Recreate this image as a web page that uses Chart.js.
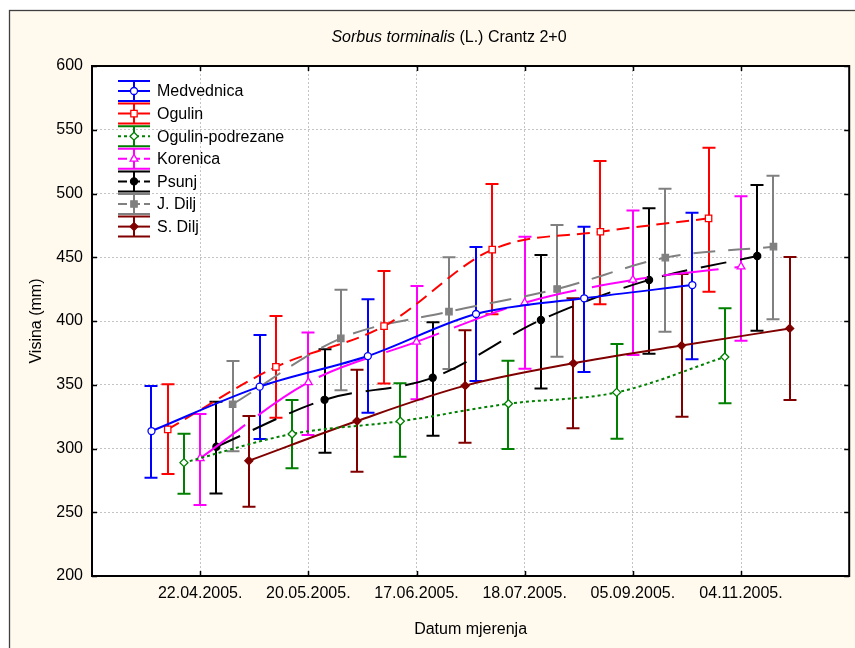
<!DOCTYPE html>
<html>
<head>
<meta charset="utf-8">
<title>Sorbus torminalis</title>
<script src="https://cdn.jsdelivr.net/npm/chart.js@4.4.1/dist/chart.umd.min.js"></script>
<style>
  html, body { margin: 0; padding: 0; background: #fff; }
  #wrap { width: 855px; height: 648px; }
</style>
</head>
<body>
<div id="wrap"><canvas id="chart" width="855" height="648"></canvas></div>
<script>
// Measurement dates (x categories)
const dates = ['22.04.2005.', '20.05.2005.', '17.06.2005.', '18.07.2005.', '05.09.2005.', '04.11.2005.'];
const yTicks = [200, 250, 300, 350, 400, 450, 500, 550, 600];

// Mean height (mm) and error bar ends
const medvednicaMean = [313.7, 348.5, 372.5, 405.5, 417.8, 428.2];
const medvednicaLow  = [277.0, 307.5, 328.0, 353.0, 360.0, 370.0];
const medvednicaHigh = [349.0, 389.0, 417.0, 458.0, 474.0, 485.0];

const ogulinMean = [315.0, 364.0, 396.0, 456.0, 470.0, 480.5];
const ogulinLow  = [280.0, 324.2, 351.0, 405.3, 413.2, 423.0];
const ogulinHigh = [350.3, 404.0, 439.2, 507.5, 525.5, 535.8];

const podrezaneMean = [288.9, 311.4, 321.4, 335.1, 344.0, 371.8];
const podrezaneLow  = [264.5, 284.5, 293.5, 299.7, 307.6, 335.5];
const podrezaneHigh = [311.6, 338.0, 351.1, 368.9, 382.0, 410.0];

const korenicaMean = [292.3, 351.9, 383.6, 414.3, 432.2, 442.6];
const korenicaLow  = [255.7, 310.6, 338.6, 362.6, 373.3, 384.6];
const korenicaHigh = [327.0, 391.0, 427.5, 466.1, 486.7, 497.8];

const psunjMean = [301.4, 338.2, 355.5, 400.8, 432.2, 451.0];
const psunjLow  = [264.8, 296.7, 310.0, 347.1, 374.4, 392.4];
const psunjHigh = [336.7, 377.8, 399.0, 451.8, 488.4, 506.7];

const jDiljMean = [334.7, 386.4, 407.3, 425.1, 449.7, 458.3];
const jDiljLow  = [297.8, 345.6, 362.4, 372.0, 391.6, 401.3];
const jDiljHigh = [368.6, 424.5, 450.0, 475.3, 503.8, 514.0];

const sDiljMean = [290.4, 321.6, 349.3, 366.8, 380.7, 394.2];
const sDiljLow  = [254.4, 281.8, 304.6, 315.8, 324.9, 338.0];
const sDiljHigh = [325.5, 361.8, 392.7, 417.8, 436.9, 450.2];

const FONT = "'Liberation Sans', Arial, sans-serif";

// series styles (colour, dash, marker)
const series = [
  { label: 'Medvednica', mean: medvednicaMean, low: medvednicaLow, high: medvednicaHigh,
    color: '#0000ff', dash: [], marker: 'circle', fill: '#ffffff', r: 3.5 },
  { label: 'Ogulin', mean: ogulinMean, low: ogulinLow, high: ogulinHigh,
    color: '#ff0000', dash: [13, 7], marker: 'rect', fill: '#ffffff', r: 4.5 },
  { label: 'Ogulin-podrezane', mean: podrezaneMean, low: podrezaneLow, high: podrezaneHigh,
    color: '#008000', dash: [3, 3], marker: 'rectRot', fill: '#ffffff', r: 4 },
  { label: 'Korenica', mean: korenicaMean, low: korenicaLow, high: korenicaHigh,
    color: '#ff00ff', dash: [56, 16], marker: 'triangle', fill: '#ffffff', r: 4.5 },
  { label: 'Psunj', mean: psunjMean, low: psunjLow, high: psunjHigh,
    color: '#000000', dash: [26, 14], marker: 'circle', fill: '#000000', r: 3.5 },
  { label: 'J. Dilj', mean: jDiljMean, low: jDiljLow, high: jDiljHigh,
    color: '#808080', dash: [22, 13], marker: 'rect', fill: '#808080', r: 4.5 },
  { label: 'S. Dilj', mean: sDiljMean, low: sDiljLow, high: sDiljHigh,
    color: '#800000', dash: [], marker: 'rectRot', fill: '#800000', r: 4 }
];

// horizontal shift of each series inside a date group
const groupStep = 0.15;
function xOf(seriesIdx, dateIdx) {
  return dateIdx + 1 + (seriesIdx - 3) * groupStep;
}

const datasets = series.map((s, si) => ({
  label: s.label,
  data: s.mean.map((v, j) => ({ x: xOf(si, j), y: v })),
  borderColor: s.color,
  borderWidth: 2,
  borderDash: s.dash,
  cubicInterpolationMode: 'monotone',
  pointStyle: s.marker,
  pointRadius: s.r,
  pointBackgroundColor: s.fill,
  pointBorderColor: s.color,
  pointBorderWidth: 1.3,
  fill: false
}));

// background: white page, cream panel with a thin frame, white plot area
const backgroundPlugin = {
  id: 'background',
  beforeDraw(chart) {
    const { ctx, chartArea: a } = chart;
    ctx.save();
    ctx.fillStyle = '#ffffff';
    ctx.fillRect(0, 0, chart.width, chart.height);
    ctx.fillStyle = '#fff9ee';
    ctx.fillRect(9, 10, chart.width, chart.height);
    ctx.strokeStyle = '#404040';
    ctx.lineWidth = 1.3;
    ctx.strokeRect(9.5, 10.5, chart.width + 20, chart.height + 20);
    ctx.fillStyle = '#ffffff';
    ctx.fillRect(a.left, a.top, a.right - a.left, a.bottom - a.top);
    ctx.restore();
  }
};

// error bars under the lines and markers
const errorBarPlugin = {
  id: 'errorBars',
  beforeDatasetsDraw(chart) {
    const { ctx } = chart;
    const yScale = chart.scales.y;
    ctx.save();
    ctx.lineWidth = 2;
    series.forEach((s, si) => {
      const meta = chart.getDatasetMeta(si);
      ctx.strokeStyle = s.color;
      meta.data.forEach((pt, j) => {
        const x = Math.round(pt.x);
        const yl = yScale.getPixelForValue(s.low[j]);
        const yh = yScale.getPixelForValue(s.high[j]);
        ctx.beginPath();
        ctx.moveTo(x, yl); ctx.lineTo(x, yh);
        ctx.moveTo(x - 6.5, yl); ctx.lineTo(x + 6.5, yl);
        ctx.moveTo(x - 6.5, yh); ctx.lineTo(x + 6.5, yh);
        ctx.stroke();
      });
    });
    ctx.restore();
  }
};

// frame, inward ticks, titles and legend
const decorPlugin = {
  id: 'decor',
  afterDraw(chart) {
    const { ctx, chartArea: a } = chart;
    const xs = chart.scales.x, ys = chart.scales.y;
    ctx.save();
    ctx.strokeStyle = '#000';
    ctx.lineWidth = 2;
    ctx.strokeRect(a.left, a.top, a.right - a.left, a.bottom - a.top);

    ctx.lineWidth = 1.5;
    ctx.beginPath();
    yTicks.forEach(v => {
      const y = Math.round(ys.getPixelForValue(v)) + 0.5;
      ctx.moveTo(a.left, y); ctx.lineTo(a.left + 5, y);
      ctx.moveTo(a.right, y); ctx.lineTo(a.right - 5, y);
    });
    dates.forEach((d, j) => {
      const x = Math.round(xs.getPixelForValue(j + 1)) + 0.5;
      ctx.moveTo(x, a.top); ctx.lineTo(x, a.top + 5);
      ctx.moveTo(x, a.bottom); ctx.lineTo(x, a.bottom - 5);
    });
    ctx.stroke();

    // title with italic species name
    ctx.fillStyle = '#000';
    ctx.textBaseline = 'middle';
    const part1 = 'Sorbus torminalis';
    const part2 = ' (L.) Crantz 2+0';
    ctx.font = 'italic 16px ' + FONT;
    const w1 = ctx.measureText(part1).width;
    ctx.font = '16px ' + FONT;
    const w2 = ctx.measureText(part2).width;
    const tx = 449 - (w1 + w2) / 2;
    ctx.textAlign = 'left';
    ctx.font = 'italic 16px ' + FONT;
    ctx.fillText(part1, tx, 38);
    ctx.font = '16px ' + FONT;
    ctx.fillText(part2, tx + w1, 38);

    // axis titles
    ctx.textAlign = 'center';
    ctx.fillText('Datum mjerenja', (a.left + a.right) / 2, 630);
    ctx.save();
    ctx.translate(37, (a.top + a.bottom) / 2);
    ctx.rotate(-Math.PI / 2);
    ctx.fillText('Visina (mm)', 0, 0);
    ctx.restore();

    // legend
    const lx0 = 118, lx1 = 150, lcx = 134;
    series.forEach((s, i) => {
      const y = 91 + i * 22.6;
      ctx.strokeStyle = s.color;
      ctx.lineWidth = 2;
      ctx.setLineDash([]);
      ctx.beginPath();
      ctx.moveTo(lx0, y - 10); ctx.lineTo(lx1, y - 10);
      ctx.moveTo(lx0, y + 10); ctx.lineTo(lx1, y + 10);
      ctx.moveTo(lcx, y - 10); ctx.lineTo(lcx, y + 10);
      ctx.stroke();
      const legDash = s.dash.length ? (s.dash[0] > 20 ? [9, 4] : s.dash) : [];
      ctx.setLineDash(legDash);
      ctx.beginPath();
      ctx.moveTo(lx0, y); ctx.lineTo(lx1, y);
      ctx.stroke();
      ctx.setLineDash([]);
      ctx.fillStyle = s.fill;
      ctx.lineWidth = 1.3;
      Chart.helpers.drawPoint(ctx, { pointStyle: s.marker, radius: s.r, rotation: 0, borderWidth: 1.3 }, lcx, y);
      ctx.fillStyle = '#000';
      ctx.textAlign = 'left';
      ctx.font = '16px ' + FONT;
      ctx.fillText(s.label, 157, y + 1);
    });
    ctx.restore();
  }
};

const gridColor = '#c4c4c4';

const cityChart = new Chart(document.getElementById('chart'), {
  type: 'line',
  data: { datasets: datasets },
  options: {
    responsive: false,
    animation: false,
    layout: { padding: { left: 0, top: 66, right: 4, bottom: 0 } },
    plugins: {
      legend: { display: false },
      title: { display: false },
      tooltip: { enabled: false }
    },
    scales: {
      x: {
        type: 'linear',
        min: 0,
        max: dates.length + 1,
        afterFit: (scale) => { scale.height = 72; },
        afterBuildTicks: (scale) => {
          scale.ticks = dates.map((d, j) => ({ value: j + 1 }));
        },
        ticks: {
          padding: 8,
          maxRotation: 0,
          autoSkip: false,
          color: '#000',
          font: { family: FONT, size: 16 },
          callback: (v) => dates[v - 1] || ''
        },
        grid: { color: gridColor, lineWidth: 1, drawTicks: false },
        border: { display: false, dash: [2, 2] }
      },
      y: {
        min: 200,
        max: 600,
        afterFit: (scale) => { scale.width = 92; },
        ticks: {
          stepSize: 50,
          padding: 9,
          color: '#000',
          font: { family: FONT, size: 16 }
        },
        grid: {
          color: (c) => (c.tick && (c.tick.value === 200 || c.tick.value === 600)) ? 'rgba(0,0,0,0)' : gridColor,
          lineWidth: 1,
          drawTicks: false
        },
        border: { display: false, dash: [2, 2] }
      }
    }
  },
  plugins: [backgroundPlugin, errorBarPlugin, decorPlugin]
});
</script>
</body>
</html>
